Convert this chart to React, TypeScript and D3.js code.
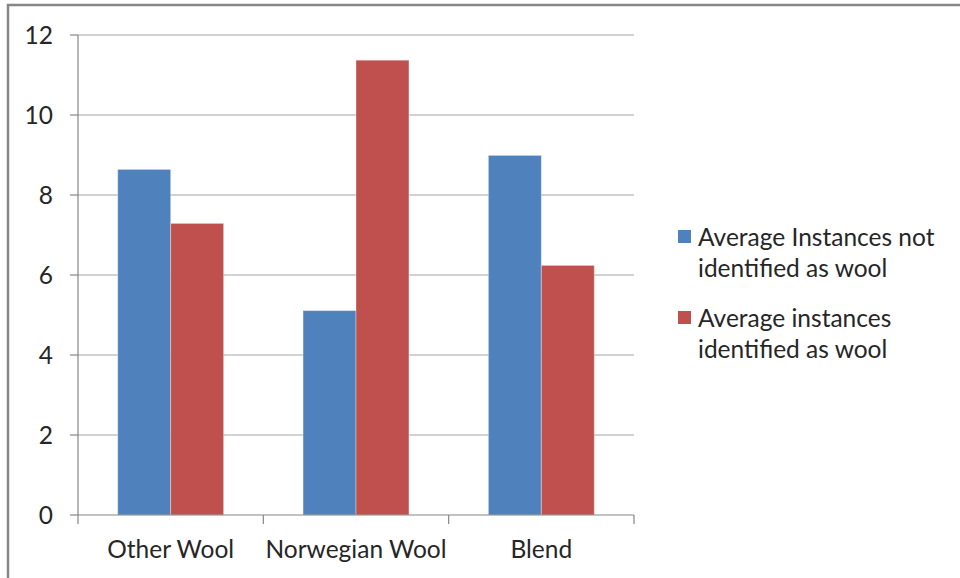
import React from "react";
import * as d3 from "d3";

const categories = ["Other Wool", "Norwegian Wool", "Blend"];
const seriesNames = [
  "Average Instances not identified as wool",
  "Average instances identified as wool",
];
const legendLines = [
  ["Average Instances not", "identified as wool"],
  ["Average instances", "identified as wool"],
];
const notIdentified = [8.64, 5.11, 8.99];
const identified = [7.29, 11.37, 6.24];
const yTicks = [0, 2, 4, 6, 8, 10, 12];
const colors = ["#4F81BD", "#C0504D"];

const W = 960;
const H = 578;
const plot = { left: 78, right: 634, top: 35, bottom: 515 };
const font = "Lato, 'Open Sans', sans-serif";
const fontSize = 24.5;
const textColor = "#262626";

export default function App() {
  const y = d3.scaleLinear().domain([0, 12]).range([plot.bottom, plot.top]);
  const gap = 1.5 / 3.5;
  const x0 = d3
    .scaleBand<string>()
    .domain(categories)
    .range([plot.left, plot.right])
    .paddingInner(gap)
    .paddingOuter(gap / 2);
  const x1 = d3
    .scaleBand<number>()
    .domain([0, 1])
    .range([0, x0.bandwidth()])
    .padding(0);
  const series = [notIdentified, identified];
  const step = x0.step();

  return (
    <svg
      width={W}
      height={H}
      style={{ position: "absolute", left: 0, top: 0, background: "#fff" }}
    >
      {/* chart area frame */}
      <rect x={8} y={5} width={1200} height={1200} fill="none" stroke="#878787" strokeWidth={2.5} />

      {/* horizontal gridlines */}
      {yTicks.map((t) =>
        t === 0 ? null : (
          <line key={t} x1={plot.left} x2={plot.right} y1={y(t)} y2={y(t)} stroke="#A5A5A5" strokeWidth={1.2} />
        )
      )}

      {/* bars */}
      {categories.map((c, i) =>
        series.map((s, k) => (
          <rect
            key={`${c}-${k}`}
            x={(x0(c) as number) + (x1(k) as number)}
            y={y(s[i])}
            width={x1.bandwidth()}
            height={y(0) - y(s[i])}
            fill={colors[k]}
            stroke="rgba(255,255,255,0.35)"
            strokeWidth={1}
          />
        ))
      )}

      {/* y axis */}
      <line x1={plot.left} x2={plot.left} y1={plot.top} y2={plot.bottom} stroke="#868686" strokeWidth={1.2} />
      {yTicks.map((t) => (
        <g key={t}>
          <line x1={plot.left - 8} x2={plot.left} y1={y(t)} y2={y(t)} stroke="#868686" strokeWidth={1.2} />
          <text
            x={53}
            y={y(t)}
            dy="0.35em"
            textAnchor="end"
            fontFamily={font}
            fontSize={fontSize}
            fill={textColor}
          >
            {t}
          </text>
        </g>
      ))}

      {/* x axis */}
      <line x1={plot.left} x2={plot.right} y1={plot.bottom} y2={plot.bottom} stroke="#868686" strokeWidth={1.2} />
      {d3.range(categories.length + 1).map((i) => (
        <line
          key={i}
          x1={plot.left + i * step}
          x2={plot.left + i * step}
          y1={plot.bottom}
          y2={plot.bottom + 9}
          stroke="#868686"
          strokeWidth={1.2}
        />
      ))}
      {categories.map((c) => (
        <text
          key={c}
          x={(x0(c) as number) + x0.bandwidth() / 2}
          y={558}
          textAnchor="middle"
          fontFamily={font}
          fontSize={fontSize}
          fill={textColor}
        >
          {c}
        </text>
      ))}

      {/* legend */}
      {seriesNames.map((name, k) => {
        const top = k === 0 ? 230 : 311;
        return (
          <g key={name}>
            <rect x={678} y={top} width={13} height={13} fill={colors[k]} />
            {legendLines[k].map((ln, j) => (
              <text
                key={j}
                x={698}
                y={top + 16 + j * 31}
                fontFamily={font}
                fontSize={fontSize}
                fill={textColor}
              >
                {ln}
              </text>
            ))}
          </g>
        );
      })}
    </svg>
  );
}
